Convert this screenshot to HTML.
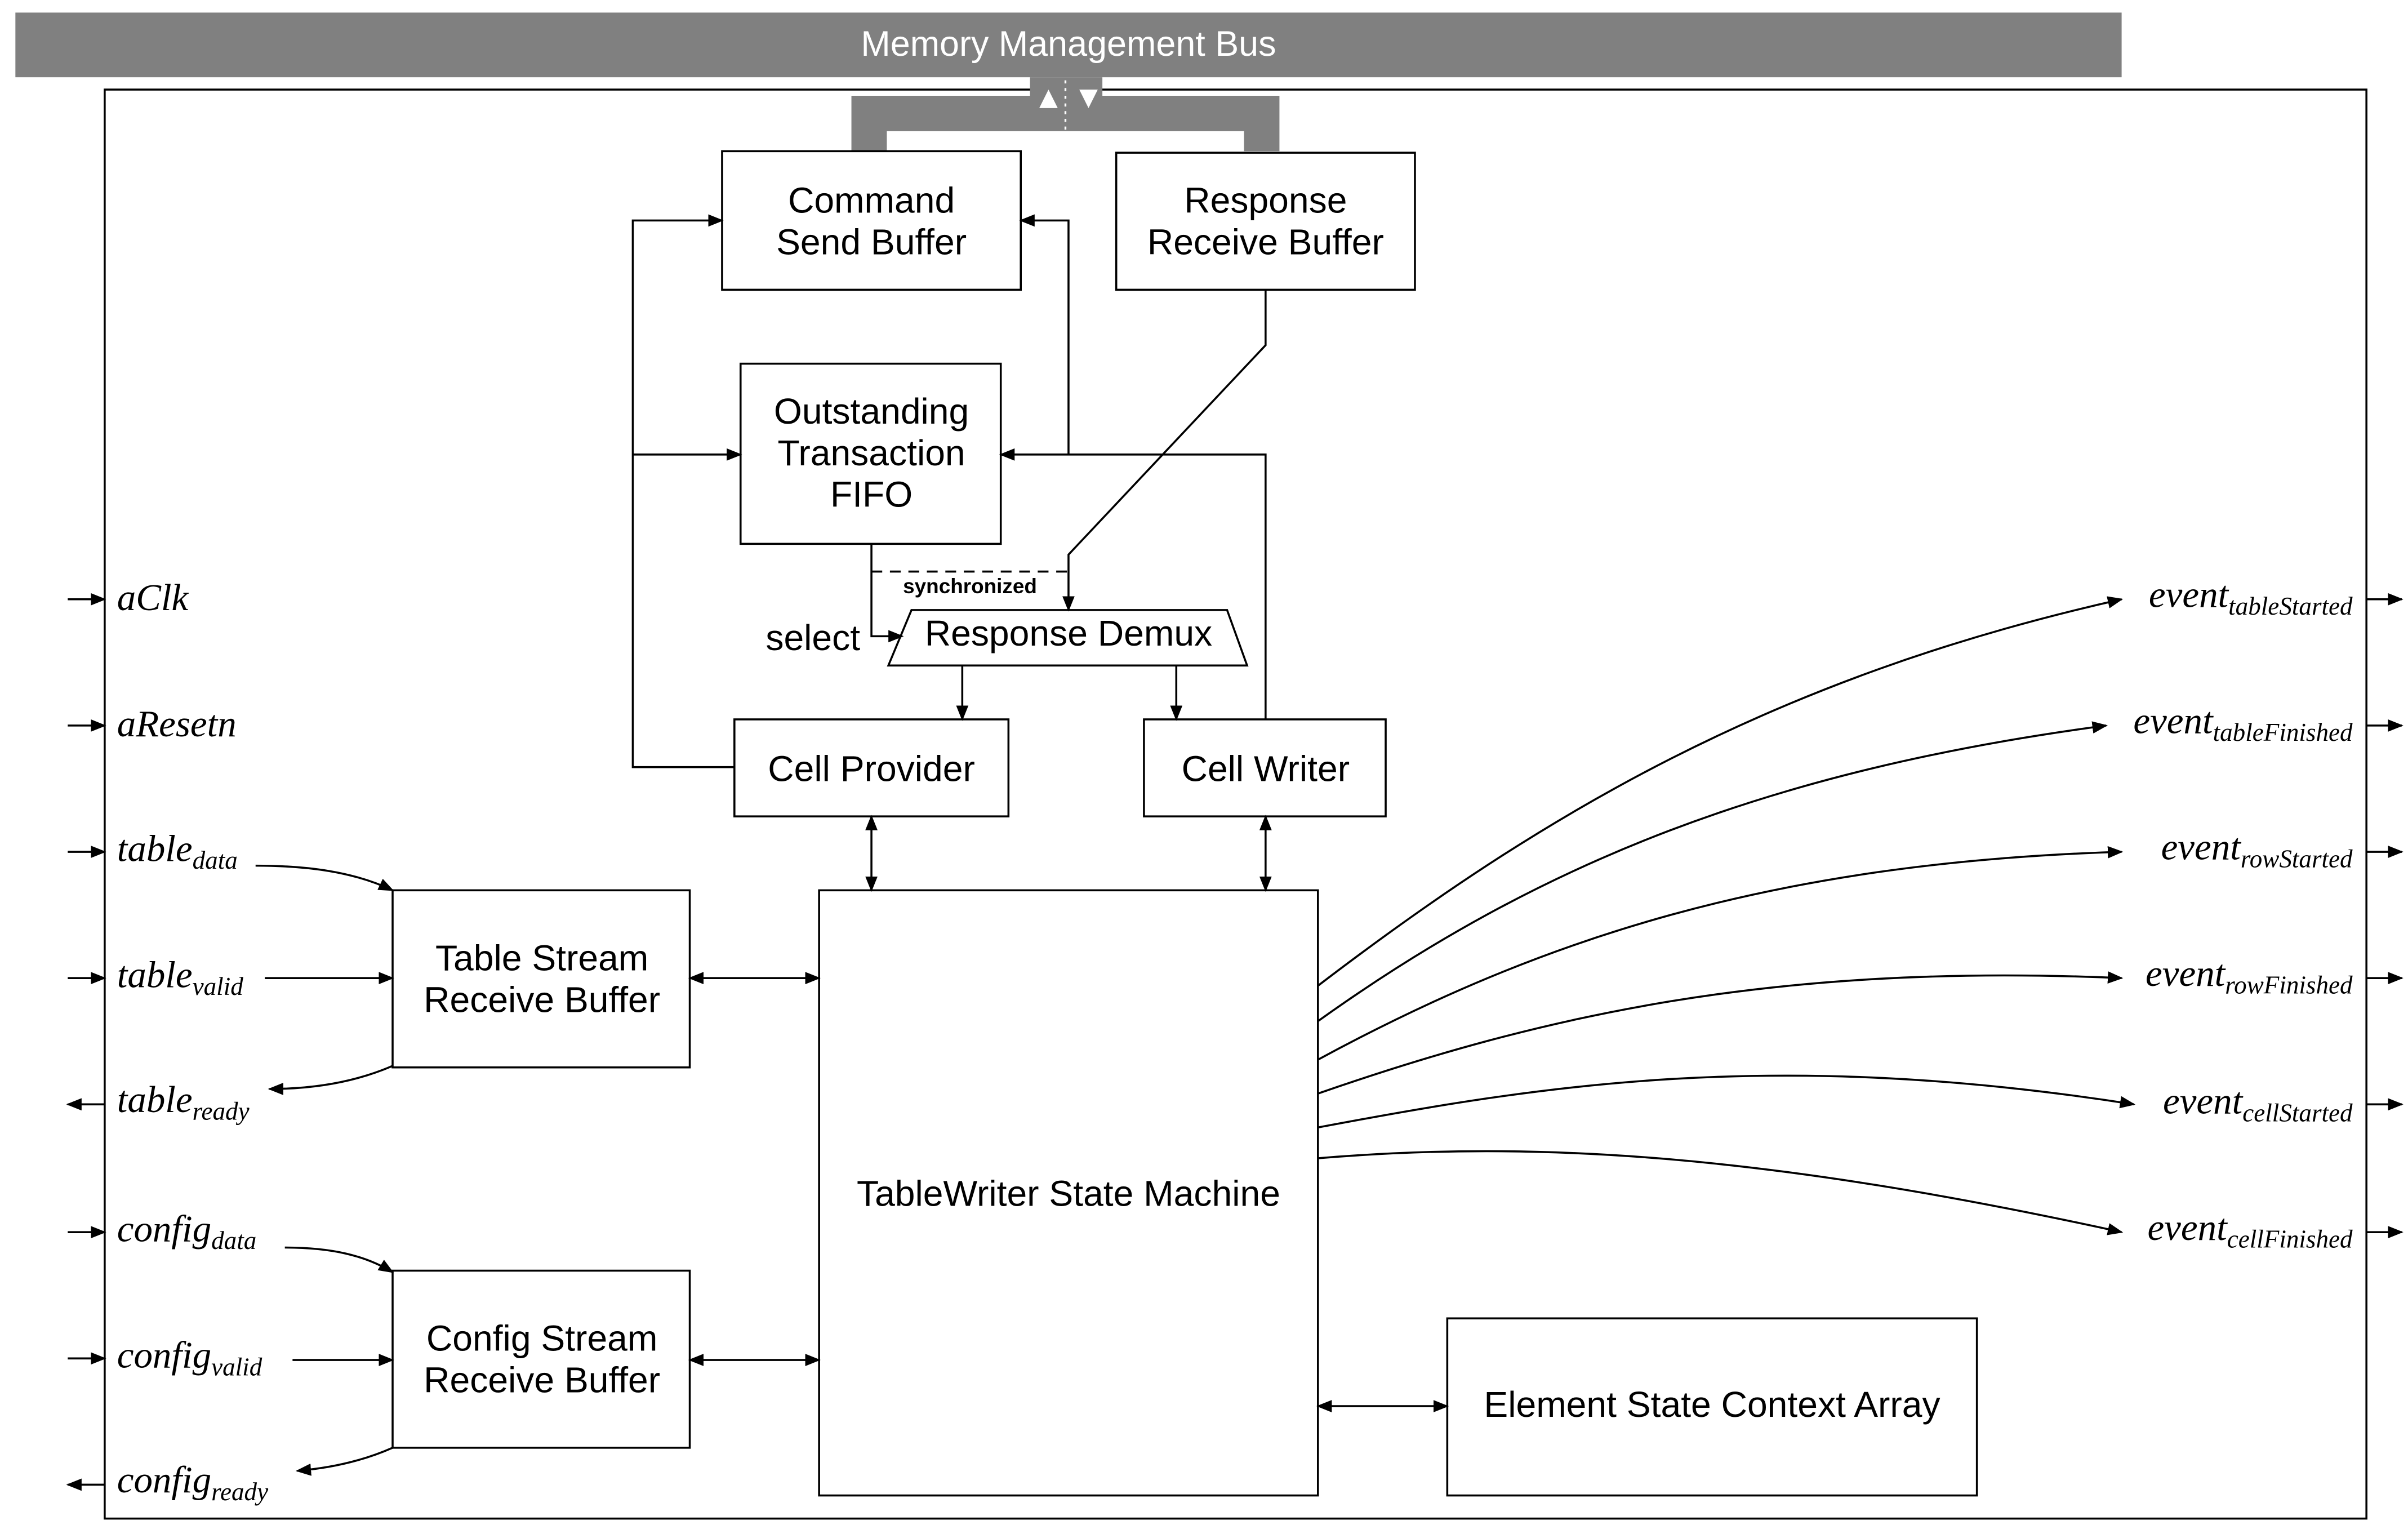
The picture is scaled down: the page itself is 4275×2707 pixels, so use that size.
<!DOCTYPE html>
<html><head><meta charset="utf-8"><style>html,body{margin:0;padding:0;background:#fff}svg{display:block}</style></head><body>
<svg width="4275" height="2707" viewBox="0 0 1564 990" xmlns="http://www.w3.org/2000/svg">
<defs>
<marker id="a" markerWidth="10" markerHeight="8" refX="9" refY="4" orient="auto" markerUnits="userSpaceOnUse"><path d="M0,0 L10,4 L0,8 Z" fill="#000"/></marker>
<marker id="s" markerWidth="10" markerHeight="8" refX="1" refY="4" orient="auto" markerUnits="userSpaceOnUse"><path d="M10,0 L0,4 L10,8 Z" fill="#000"/></marker>
</defs>
<rect x="10" y="8" width="1368" height="42" fill="#808080"/>
<text x="694" y="36" font-family="Liberation Sans, sans-serif" font-size="23" fill="#fff" text-anchor="middle">Memory Management Bus</text>
<rect x="68" y="58" width="1469" height="928" fill="none" stroke="#000" stroke-width="1.3"/>
<path d="M553,98 V62 H831 V98 H808 V85 H576 V98 Z" fill="#808080"/>
<rect x="669" y="50" width="47" height="13" fill="#808080"/>
<line x1="692" y1="52" x2="692" y2="85" stroke="#fff" stroke-width="1.2" stroke-dasharray="2,3"/>
<path d="M675,70 L681,58 L687,70 Z" fill="#fff"/>
<path d="M701,58 L713,58 L707,70 Z" fill="#fff"/>
<g fill="none" stroke="#000" stroke-width="1.3">
<rect x="469" y="98" width="194" height="90" fill="#fff"/>
<rect x="725" y="99" width="194" height="89"/>
<rect x="481" y="236" width="169" height="117"/>
<path d="M592,396 H797 L810,432 H577 Z"/>
<rect x="477" y="467" width="178" height="63"/>
<rect x="743" y="467" width="157" height="63"/>
<rect x="255" y="578" width="193" height="115"/>
<rect x="255" y="825" width="193" height="115"/>
<rect x="532" y="578" width="324" height="393"/>
<rect x="940" y="856" width="344" height="115"/>
<path d="M477,498 H411 V143 H469" marker-end="url(#a)"/>
<path d="M411,295 H481" marker-end="url(#a)"/>
<path d="M822,467 V295 H650" marker-end="url(#a)"/>
<path d="M694,295 V143 H663" marker-end="url(#a)"/>
<path d="M822,188 V224 L694,360 V396" marker-end="url(#a)"/>
<path d="M566,353 V413 H586" marker-end="url(#a)"/>
<path d="M566,371 H694" stroke-dasharray="7,5"/>
<path d="M625,432 V467" marker-end="url(#a)"/>
<path d="M764,432 V467" marker-end="url(#a)"/>
<path d="M566,530 V578" marker-start="url(#s)" marker-end="url(#a)"/>
<path d="M822,530 V578" marker-start="url(#s)" marker-end="url(#a)"/>
<path d="M448,635 H532" marker-start="url(#s)" marker-end="url(#a)"/>
<path d="M448,883 H532" marker-start="url(#s)" marker-end="url(#a)"/>
<path d="M856,913 H940" marker-start="url(#s)" marker-end="url(#a)"/>
<path d="M44,389 H68" marker-end="url(#a)"/>
<path d="M44,471 H68" marker-end="url(#a)"/>
<path d="M44,553 H68" marker-end="url(#a)"/>
<path d="M44,635 H68" marker-end="url(#a)"/>
<path d="M44,800 H68" marker-end="url(#a)"/>
<path d="M44,882 H68" marker-end="url(#a)"/>
<path d="M68,717 H44" marker-end="url(#a)"/>
<path d="M68,964 H44" marker-end="url(#a)"/>
<path d="M1537,389 H1560" marker-end="url(#a)"/>
<path d="M1537,471 H1560" marker-end="url(#a)"/>
<path d="M1537,553 H1560" marker-end="url(#a)"/>
<path d="M1537,635 H1560" marker-end="url(#a)"/>
<path d="M1537,717 H1560" marker-end="url(#a)"/>
<path d="M1537,800 H1560" marker-end="url(#a)"/>
<path d="M166,562 C200,562 230,566 255,578" marker-end="url(#a)"/>
<path d="M172,635 H255" marker-end="url(#a)"/>
<path d="M255,692 C232,702 205,707 175,707" marker-end="url(#a)"/>
<path d="M185,810 C215,810 237,815 255,826" marker-end="url(#a)"/>
<path d="M190,883 H255" marker-end="url(#a)"/>
<path d="M255,940 C237,948 217,953 193,955" marker-end="url(#a)"/>
<path d="M856,640 C1000,530 1150,440 1378,389" marker-end="url(#a)"/>
<path d="M856,663 C1000,560 1150,500 1368,471" marker-end="url(#a)"/>
<path d="M856,688 C1000,610 1150,560 1378,553" marker-end="url(#a)"/>
<path d="M856,710 C1000,660 1150,625 1378,635" marker-end="url(#a)"/>
<path d="M856,732 C1000,705 1150,680 1386,717" marker-end="url(#a)"/>
<path d="M856,752 C1000,740 1150,750 1378,800" marker-end="url(#a)"/>
</g>
<g font-family="Liberation Sans, sans-serif" font-size="23.5" fill="#000" text-anchor="middle">
<text x="566" y="138">Command</text><text x="566" y="165">Send Buffer</text>
<text x="822" y="138">Response</text><text x="822" y="165">Receive Buffer</text>
<text x="566" y="275">Outstanding</text><text x="566" y="302">Transaction</text><text x="566" y="329">FIFO</text>
<text x="694" y="419">Response Demux</text>
<text x="566" y="507">Cell Provider</text>
<text x="822" y="507">Cell Writer</text>
<text x="352" y="630">Table Stream</text><text x="352" y="657">Receive Buffer</text>
<text x="352" y="877">Config Stream</text><text x="352" y="904">Receive Buffer</text>
<text x="694" y="783">TableWriter State Machine</text>
<text x="1112" y="920">Element State Context Array</text>
<text x="528" y="422">select</text>
<text x="630" y="385" font-size="13.5" font-weight="bold">synchronized</text>
</g>
<g font-family="Liberation Serif, serif" font-style="italic" font-size="24.5" fill="#000">
<text x="76" y="396">aClk</text>
<text x="76" y="478">aResetn</text>
<text x="76" y="559">table<tspan font-size="16.5" dy="5">data</tspan></text>
<text x="76" y="641">table<tspan font-size="16.5" dy="5">valid</tspan></text>
<text x="76" y="722">table<tspan font-size="16.5" dy="5">ready</tspan></text>
<text x="76" y="806">config<tspan font-size="16.5" dy="5">data</tspan></text>
<text x="76" y="888">config<tspan font-size="16.5" dy="5">valid</tspan></text>
<text x="76" y="969">config<tspan font-size="16.5" dy="5">ready</tspan></text>
<g text-anchor="end">
<text x="1528" y="394">event<tspan font-size="16.5" dy="5">tableStarted</tspan></text>
<text x="1528" y="476">event<tspan font-size="16.5" dy="5">tableFinished</tspan></text>
<text x="1528" y="558">event<tspan font-size="16.5" dy="5">rowStarted</tspan></text>
<text x="1528" y="640">event<tspan font-size="16.5" dy="5">rowFinished</tspan></text>
<text x="1528" y="723">event<tspan font-size="16.5" dy="5">cellStarted</tspan></text>
<text x="1528" y="805">event<tspan font-size="16.5" dy="5">cellFinished</tspan></text>
</g>
</g>
</svg>
</body></html>
